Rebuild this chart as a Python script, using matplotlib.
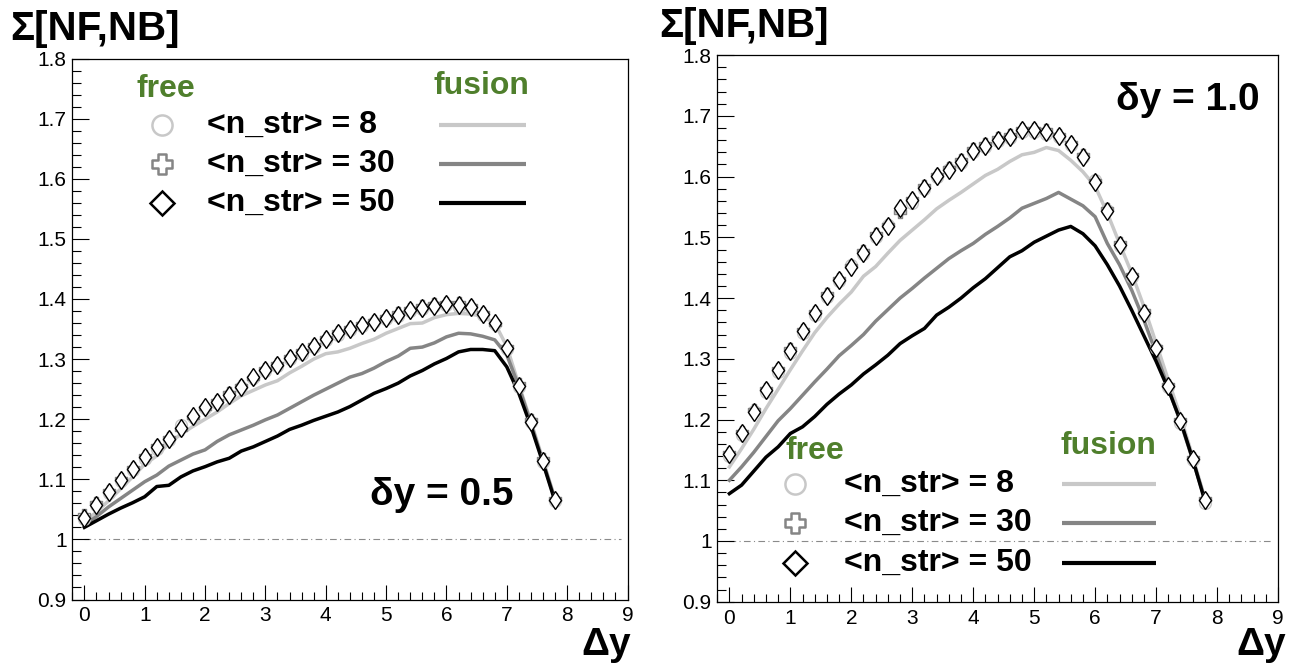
import numpy as np
import matplotlib
matplotlib.use("Agg")
import matplotlib.pyplot as plt
from matplotlib.path import Path
from matplotlib.ticker import MultipleLocator, FuncFormatter

plt.rcParams['font.family'] = ['Liberation Sans', 'DejaVu Sans']

# ---------------- data ----------------
dy = [0.0, 0.2, 0.4, 0.6, 0.8, 1.0, 1.2, 1.4, 1.6, 1.8,
      2.0, 2.2, 2.4, 2.6, 2.8, 3.0, 3.2, 3.4, 3.6, 3.8,
      4.0, 4.2, 4.4, 4.6, 4.8, 5.0, 5.2, 5.4, 5.6, 5.8,
      6.0, 6.2, 6.4, 6.6, 6.8, 7.0, 7.2, 7.4, 7.6, 7.8]

# delta y = 0.5  (left panel)
free8_L = [1.034, 1.057, 1.078, 1.098, 1.116, 1.133, 1.150, 1.166, 1.190, 1.204,
           1.219, 1.227, 1.240, 1.253, 1.269, 1.280, 1.289, 1.300, 1.309, 1.320,
           1.331, 1.340, 1.348, 1.355, 1.361, 1.367, 1.371, 1.380, 1.384, 1.388,
           1.390, 1.387, 1.385, 1.374, 1.359, 1.317, 1.254, 1.195, 1.129, 1.064]
free30_L = [1.040, 1.060, 1.080, 1.101, 1.119, 1.138, 1.156, 1.169, 1.184, 1.204,
            1.218, 1.230, 1.243, 1.256, 1.268, 1.284, 1.292, 1.304, 1.313, 1.323,
            1.335, 1.345, 1.352, 1.359, 1.364, 1.370, 1.376, 1.383, 1.388, 1.392,
            1.393, 1.394, 1.389, 1.377, 1.358, 1.320, 1.258, 1.198, 1.133, 1.068]
free50_L = [1.036, 1.058, 1.079, 1.099, 1.117, 1.137, 1.154, 1.167, 1.186, 1.206,
            1.220, 1.228, 1.241, 1.254, 1.270, 1.282, 1.290, 1.301, 1.311, 1.321,
            1.333, 1.343, 1.350, 1.357, 1.362, 1.368, 1.373, 1.381, 1.385, 1.389,
            1.392, 1.390, 1.387, 1.375, 1.360, 1.318, 1.255, 1.196, 1.131, 1.066]
fus8_L = [1.027, 1.046, 1.064, 1.084, 1.104, 1.125, 1.139, 1.160, 1.175, 1.188,
          1.200, 1.212, 1.226, 1.239, 1.248, 1.257, 1.264, 1.277, 1.288, 1.300,
          1.309, 1.312, 1.318, 1.326, 1.333, 1.343, 1.351, 1.359, 1.360, 1.369,
          1.374, 1.376, 1.375, 1.371, 1.360, 1.321, 1.257, 1.196, 1.132, 1.067]
fus30_L = [1.024, 1.038, 1.054, 1.068, 1.082, 1.096, 1.107, 1.122, 1.132, 1.142,
           1.149, 1.163, 1.174, 1.182, 1.190, 1.199, 1.207, 1.218, 1.229, 1.240,
           1.250, 1.260, 1.270, 1.276, 1.285, 1.296, 1.305, 1.318, 1.320, 1.327,
           1.337, 1.343, 1.342, 1.338, 1.332, 1.307, 1.254, 1.193, 1.129, 1.066]
fus50_L = [1.020, 1.031, 1.042, 1.052, 1.061, 1.071, 1.088, 1.090, 1.104, 1.114,
           1.121, 1.129, 1.135, 1.147, 1.154, 1.163, 1.172, 1.183, 1.190, 1.198,
           1.205, 1.212, 1.221, 1.232, 1.243, 1.251, 1.260, 1.272, 1.281, 1.292,
           1.301, 1.312, 1.316, 1.316, 1.314, 1.287, 1.243, 1.188, 1.127, 1.063]

# delta y = 1.0  (right panel)
free8_R = [1.140, 1.175, 1.214, 1.246, 1.279, 1.310, 1.343, 1.372, 1.402, 1.428,
           1.455, 1.473, 1.501, 1.520, 1.546, 1.556, 1.580, 1.599, 1.612, 1.622,
           1.640, 1.648, 1.658, 1.664, 1.674, 1.673, 1.671, 1.665, 1.652, 1.632,
           1.594, 1.545, 1.486, 1.434, 1.374, 1.318, 1.254, 1.195, 1.133, 1.062]
free30_R = [1.145, 1.179, 1.215, 1.250, 1.284, 1.316, 1.347, 1.377, 1.406, 1.431,
            1.453, 1.477, 1.505, 1.521, 1.542, 1.564, 1.584, 1.603, 1.614, 1.627,
            1.645, 1.654, 1.664, 1.669, 1.678, 1.679, 1.677, 1.669, 1.656, 1.635,
            1.593, 1.546, 1.491, 1.438, 1.378, 1.319, 1.257, 1.200, 1.137, 1.069]
free50_R = [1.143, 1.177, 1.213, 1.248, 1.281, 1.313, 1.345, 1.375, 1.404, 1.430,
            1.451, 1.475, 1.503, 1.518, 1.549, 1.562, 1.582, 1.601, 1.611, 1.624,
            1.642, 1.651, 1.661, 1.666, 1.676, 1.676, 1.674, 1.667, 1.654, 1.633,
            1.591, 1.543, 1.488, 1.436, 1.376, 1.317, 1.255, 1.198, 1.135, 1.067]
fus8_R = [1.122, 1.152, 1.184, 1.218, 1.250, 1.282, 1.313, 1.343, 1.368, 1.390,
          1.410, 1.436, 1.452, 1.474, 1.495, 1.512, 1.529, 1.547, 1.561, 1.574,
          1.588, 1.602, 1.612, 1.625, 1.636, 1.640, 1.648, 1.643, 1.627, 1.608,
          1.584, 1.540, 1.490, 1.441, 1.386, 1.326, 1.265, 1.205, 1.139, 1.070]
fus30_R = [1.100, 1.122, 1.146, 1.172, 1.198, 1.218, 1.240, 1.262, 1.283, 1.305,
           1.322, 1.340, 1.362, 1.381, 1.400, 1.416, 1.433, 1.449, 1.465, 1.478,
           1.490, 1.505, 1.518, 1.532, 1.548, 1.556, 1.564, 1.574, 1.563, 1.552,
           1.534, 1.490, 1.455, 1.413, 1.364, 1.309, 1.252, 1.196, 1.134, 1.069]
fus50_R = [1.078, 1.092, 1.115, 1.138, 1.155, 1.177, 1.188, 1.205, 1.225, 1.242,
           1.257, 1.275, 1.290, 1.306, 1.325, 1.338, 1.350, 1.372, 1.385, 1.400,
           1.417, 1.432, 1.450, 1.468, 1.478, 1.492, 1.502, 1.512, 1.518, 1.506,
           1.486, 1.455, 1.420, 1.380, 1.338, 1.296, 1.250, 1.198, 1.135, 1.066]

legend_labels = ["<n_str> = 8", "<n_str> = 30", "<n_str> = 50"]
panel_labels = ["\u03b4y = 0.5", "\u03b4y = 1.0"]
ylabel = "\u03a3[NF,NB]"
xlabel = "\u0394y"

# ---------------- styles ----------------
C_LIGHT = "#c8c8c8"
C_MID = "#858585"
C_DARK = "#000000"
GREEN = "#4f7f2c"

w = 0.36
cross_path = Path([(-w, 1), (w, 1), (w, w), (1, w), (1, -w), (w, -w), (w, -1),
                   (-w, -1), (-w, -w), (-1, -w), (-1, w), (-w, w), (-w, 1)],
                  closed=True)

W, H = 1315, 666
fig = plt.figure(figsize=(W / 100, H / 100), dpi=100)

axL = fig.add_axes([72.3 / W, (H - 599.5) / H, 555.2 / W, 540.9 / H])
axR = fig.add_axes([717.2 / W, (H - 601.7) / H, 560.8 / W, 546.5 / H])


def fmt(v, pos):
    return "%g" % round(v, 3)


def style_axis(ax):
    ax.set_xlim(-0.2, 9)
    ax.set_ylim(0.9, 1.8)
    ax.xaxis.set_major_locator(MultipleLocator(1))
    ax.xaxis.set_minor_locator(MultipleLocator(0.2))
    ax.yaxis.set_major_locator(MultipleLocator(0.1))
    ax.yaxis.set_minor_locator(MultipleLocator(0.02))
    ax.yaxis.set_major_formatter(FuncFormatter(fmt))
    ax.xaxis.set_major_formatter(FuncFormatter(fmt))
    ax.tick_params(axis='both', which='both', direction='in', top=False,
                   right=False, width=0.8, labelsize=15)
    ax.tick_params(axis='y', which='major', length=12, pad=4)
    ax.tick_params(axis='y', which='minor', length=6.5)
    ax.tick_params(axis='x', which='major', length=11, pad=5)
    ax.tick_params(axis='x', which='minor', length=5.5)
    for s in ax.spines.values():
        s.set_linewidth(0.9)
    ax.plot([0, 8.9], [1, 1], color="#8a8a8a", lw=0.8, ls=(0, (6, 3, 1, 3)),
            zorder=1)


def draw_panel(ax, f8, f30, f50, l8, l30, l50):
    ax.plot(dy, l8, color=C_LIGHT, lw=2.5, zorder=2, solid_joinstyle='round')
    ax.plot(dy, l30, color=C_MID, lw=2.5, zorder=2, solid_joinstyle='round')
    ax.plot(dy, l50, color=C_DARK, lw=2.5, zorder=2, solid_joinstyle='round')
    ax.plot(dy, f8, ls='none', marker='o', ms=8.5, mfc='none', mec=C_LIGHT,
            mew=1.0, zorder=3)
    ax.plot(dy, f30, ls='none', marker=cross_path, ms=9, mfc='none',
            mec=C_MID, mew=1.0, zorder=4)
    ax.plot(dy, f50, ls='none', marker='d', ms=9.5, mfc='white', mec=C_DARK,
            mew=1.0, zorder=5)


def draw_legend(ax, fx_free, fy_free, fx_fus, fy_fus, fx_mark, fx_text,
                fx_l0, fx_l1, rows):
    ax.text(fx_free, fy_free, "free", transform=ax.transAxes, ha='center',
            va='center', color=GREEN, fontsize=23, fontweight='bold')
    ax.text(fx_fus, fy_fus, "fusion", transform=ax.transAxes, ha='center',
            va='center', color=GREEN, fontsize=23, fontweight='bold')
    mstyles = [dict(marker='o', ms=14.5, mfc='none', mec=C_LIGHT, mew=1.8),
               dict(marker=cross_path, ms=15, mfc='none', mec=C_MID, mew=1.8),
               dict(marker='D', ms=12, mfc='white', mec=C_DARK, mew=1.8)]
    lcols = [C_LIGHT, C_MID, C_DARK]
    for fy, lab, ms, lc in zip(rows, legend_labels, mstyles, lcols):
        ax.plot([fx_mark], [fy], transform=ax.transAxes, ls='none',
                clip_on=False, **ms)
        ax.text(fx_text, fy, lab, transform=ax.transAxes, ha='left',
                va='center', fontsize=23, fontweight='bold')
        ax.plot([fx_l0, fx_l1], [fy, fy], transform=ax.transAxes, color=lc,
                lw=3.0, solid_capstyle='butt')


for ax in (axL, axR):
    style_axis(ax)

draw_panel(axL, free8_L, free30_L, free50_L, fus8_L, fus30_L, fus50_L)
draw_panel(axR, free8_R, free30_R, free50_R, fus8_R, fus30_R, fus50_R)

draw_legend(axL, 0.168, 0.944, 0.737, 0.949, 0.1616, 0.2426, 0.6605, 0.8171,
            [0.877, 0.806, 0.733])
draw_legend(axR, 0.175, 0.2765, 0.697, 0.2844, 0.1387, 0.2261, 0.6157, 0.7819,
            [0.2158, 0.1449, 0.0714])

axL.text(0.665, 0.194, panel_labels[0], transform=axL.transAxes, ha='center',
         va='center', fontsize=28, fontweight='bold')
axR.text(0.968, 0.9186, panel_labels[1], transform=axR.transAxes, ha='right',
         va='center', fontsize=28, fontweight='bold')

fig.text(10 / W, (H - 40) / H, ylabel, ha='left', va='baseline', fontsize=29,
         fontweight='bold')
fig.text(659 / W, (H - 37) / H, ylabel, ha='left', va='baseline', fontsize=29,
         fontweight='bold')
fig.text(631 / W, (H - 655) / H, xlabel, ha='right', va='baseline', fontsize=28,
         fontweight='bold')
fig.text(1286 / W, (H - 655) / H, xlabel, ha='right', va='baseline',
         fontsize=28, fontweight='bold')

fig.savefig("out.png", dpi=100, facecolor='white')
